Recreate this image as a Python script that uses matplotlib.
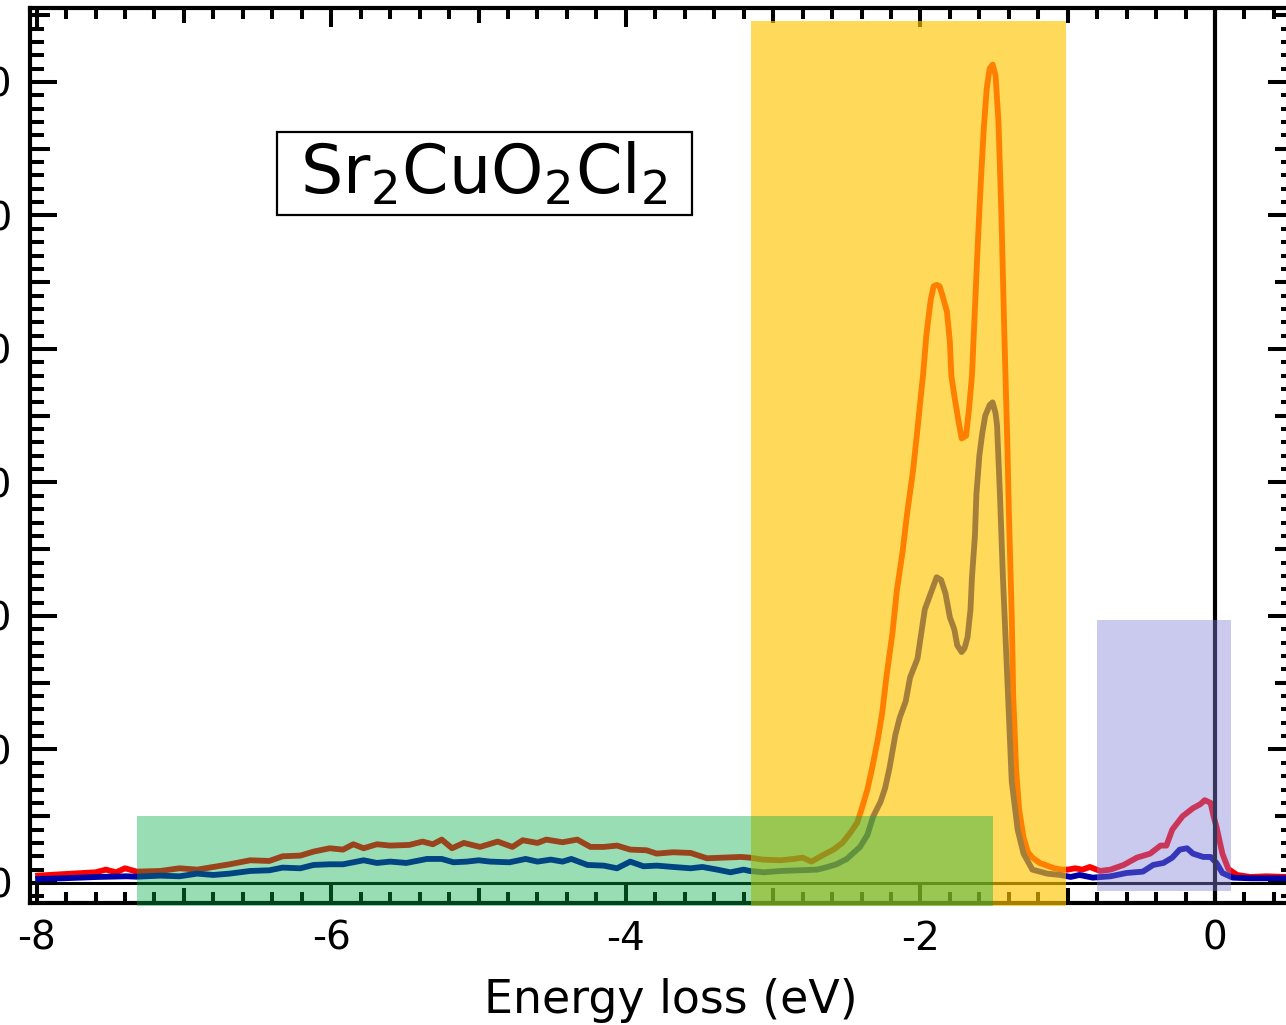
import matplotlib
matplotlib.use('Agg')
import matplotlib.pyplot as plt
from matplotlib.ticker import MultipleLocator, NullFormatter
from matplotlib.patches import Rectangle

plt.rcParams['font.family'] = ['DejaVu Sans']
plt.rcParams['axes.unicode_minus'] = False
plt.rcParams['mathtext.fontset'] = 'dejavusans'

# ---------------- data ----------------
red_x = [-7.99, -7.84, -7.60, -7.53, -7.46, -7.40, -7.32, -7.16, -7.03, -6.91, -6.80, -6.69,
         -6.55, -6.42, -6.33, -6.21, -6.12, -6.01, -5.92, -5.85, -5.78, -5.69, -5.60, -5.47,
         -5.38, -5.31, -5.25, -5.18, -5.10, -4.99, -4.87, -4.77, -4.70, -4.60, -4.54, -4.43,
         -4.33, -4.24, -4.15, -4.06, -3.97, -3.86, -3.79, -3.68, -3.56, -3.45, -3.34, -3.22,
         -3.16, -3.07, -2.95, -2.86, -2.80, -2.74, -2.66, -2.59, -2.53, -2.48, -2.43, -2.40,
         -2.36, -2.33, -2.29, -2.26, -2.23, -2.19, -2.16, -2.12, -2.09, -2.05, -2.02, -1.98,
         -1.96, -1.93, -1.91, -1.89, -1.87, -1.85, -1.82, -1.80, -1.79, -1.77, -1.74, -1.72,
         -1.69, -1.67, -1.65, -1.63, -1.61, -1.59, -1.57, -1.55, -1.53, -1.51, -1.49, -1.47,
         -1.45, -1.43, -1.41, -1.40, -1.38, -1.37, -1.35, -1.33, -1.30, -1.27, -1.24, -1.19,
         -1.14, -1.09, -1.04, -1.00, -0.95, -0.90, -0.85, -0.78, -0.71, -0.62, -0.53, -0.44,
         -0.37, -0.33, -0.29, -0.22, -0.15, -0.10, -0.07, -0.03, -0.01, 0.01, 0.05, 0.09,
         0.15, 0.24, 0.35, 0.48, 0.55]
red_y = [0.055, 0.065, 0.08, 0.10, 0.08, 0.11, 0.085, 0.09, 0.11, 0.10, 0.12, 0.14,
         0.17, 0.165, 0.20, 0.205, 0.235, 0.26, 0.25, 0.29, 0.26, 0.29, 0.28, 0.285,
         0.31, 0.29, 0.325, 0.26, 0.30, 0.27, 0.31, 0.27, 0.32, 0.30, 0.325, 0.305,
         0.325, 0.27, 0.27, 0.28, 0.25, 0.245, 0.22, 0.23, 0.225, 0.185, 0.19, 0.195,
         0.19, 0.175, 0.17, 0.18, 0.19, 0.16, 0.21, 0.25, 0.30, 0.37, 0.45, 0.55,
         0.70, 0.85, 1.07, 1.27, 1.55, 1.87, 2.19, 2.49, 2.77, 3.09, 3.40, 3.83,
         4.10, 4.37, 4.47, 4.48, 4.47, 4.40, 4.28, 4.05, 3.80, 3.65, 3.45, 3.33,
         3.35, 3.55, 3.80, 4.30, 4.80, 5.25, 5.65, 5.95, 6.10, 6.13, 6.05, 5.70,
         5.00, 4.10, 3.30, 2.80, 2.00, 1.40, 0.85, 0.55, 0.34, 0.23, 0.19, 0.15,
         0.13, 0.11, 0.10, 0.10, 0.11, 0.10, 0.12, 0.09, 0.10, 0.135, 0.19, 0.22,
         0.28, 0.28, 0.40, 0.50, 0.56, 0.59, 0.62, 0.60, 0.50, 0.42, 0.22, 0.105,
         0.06, 0.045, 0.05, 0.045, 0.045]

blue_x = [-7.99, -7.82, -7.59, -7.39, -7.32, -7.16, -7.03, -6.91, -6.80, -6.69, -6.55, -6.42,
          -6.33, -6.21, -6.12, -6.01, -5.92, -5.78, -5.69, -5.60, -5.49, -5.35, -5.25, -5.17,
          -5.08, -5.00, -4.92, -4.79, -4.68, -4.60, -4.51, -4.43, -4.37, -4.26, -4.15, -4.06,
          -3.97, -3.88, -3.79, -3.68, -3.56, -3.48, -3.38, -3.29, -3.20, -3.16, -3.06, -2.95,
          -2.82, -2.70, -2.63, -2.57, -2.50, -2.46, -2.41, -2.36, -2.32, -2.27, -2.24, -2.21,
          -2.17, -2.14, -2.10, -2.07, -2.02, -1.97, -1.92, -1.89, -1.86, -1.83, -1.80, -1.77,
          -1.75, -1.72, -1.70, -1.68, -1.66, -1.65, -1.63, -1.62, -1.60, -1.58, -1.56, -1.53,
          -1.51, -1.49, -1.48, -1.46, -1.44, -1.41, -1.38, -1.34, -1.30, -1.24, -1.14, -1.05,
          -0.98, -0.92, -0.83, -0.71, -0.60, -0.49, -0.42, -0.35, -0.29, -0.24, -0.19, -0.15,
          -0.08, -0.03, 0.01, 0.05, 0.12, 0.24, 0.48, 0.55]
blue_y = [0.03, 0.035, 0.045, 0.05, 0.047, 0.055, 0.05, 0.07, 0.06, 0.07, 0.09, 0.095,
          0.115, 0.11, 0.135, 0.14, 0.14, 0.17, 0.15, 0.16, 0.15, 0.18, 0.18, 0.155,
          0.16, 0.17, 0.16, 0.155, 0.18, 0.16, 0.175, 0.16, 0.18, 0.135, 0.13, 0.11,
          0.16, 0.125, 0.13, 0.12, 0.11, 0.12, 0.10, 0.08, 0.10, 0.09, 0.08, 0.09,
          0.095, 0.10, 0.12, 0.14, 0.18, 0.22, 0.27, 0.36, 0.50, 0.61, 0.71, 0.86,
          1.11, 1.24, 1.36, 1.54, 1.68, 2.05, 2.20, 2.29, 2.27, 2.17, 1.99, 1.90,
          1.78, 1.73, 1.76, 1.84, 2.05, 2.29, 2.60, 2.91, 3.20, 3.37, 3.50, 3.58,
          3.60, 3.52, 3.43, 2.91, 2.29, 1.53, 0.76, 0.40, 0.22, 0.10, 0.07, 0.06,
          0.045, 0.06, 0.04, 0.05, 0.075, 0.085, 0.135, 0.15, 0.19, 0.25, 0.26, 0.22,
          0.195, 0.195, 0.15, 0.075, 0.04, 0.035, 0.035, 0.035]

# shaded regions: green (multi-magnon), yellow (dd), lavender (magnon)
band_names = ['green', 'yellow', 'lavender']
band_x0 = [-7.32, -3.15, -0.80]
band_x1 = [-1.51, -1.01, 0.11]
band_y0 = [-0.17, -0.17, -0.06]
band_y1 = [0.50, 6.46, 1.97]

x_major_ticks = [-8, -6, -4, -2, 0]
x_tick_labels = ['-8', '-6', '-4', '-2', '0']
x_mid_ticks = [-7, -5, -3, -1]
y_major_ticks = [0, 1, 2, 3, 4, 5, 6]
y_tick_labels = ['0', '10', '20', '30', '40', '50', '60']
y_mid_ticks = [0.5, 1.5, 2.5, 3.5, 4.5, 5.5, 6.5]

compound = r'Sr$_2$CuO$_2$Cl$_2$'
x_title = 'Energy loss (eV)'

# ---------------- figure ----------------
W, H = 1286, 1025
fig = plt.figure(figsize=(W / 100, H / 100), dpi=100)
ax = fig.add_axes([30 / W, 122 / H, 1265 / W, 895 / H])

ax.plot(red_x, red_y, color='#FF0000', lw=4.2, zorder=2, solid_joinstyle='round')
ax.plot(blue_x, blue_y, color='#0000A8', lw=4.2, zorder=2.1, solid_joinstyle='round')
ax.axhline(0, color='black', lw=2.2, zorder=1.5)
ax.axvline(0, color='black', lw=3.0, zorder=2.5)

band_style = {
    'green': dict(fc='#00AC48', alpha=0.40, z=3.2),
    'yellow': dict(fc='#FFC500', alpha=0.65, z=3.0),
    'lavender': dict(fc='#8282D7', alpha=0.42, z=3.1),
}
for name, x0, x1, y0, y1 in zip(band_names, band_x0, band_x1, band_y0, band_y1):
    st = band_style[name]
    ax.add_patch(Rectangle((x0, y0), x1 - x0, y1 - y0, facecolor=st['fc'],
                           alpha=st['alpha'], lw=0, zorder=st['z'], clip_on=False))

ax.set_xlim(-8.045, 0.543)
ax.set_ylim(-0.15, 6.554)

ax.set_axisbelow(True)
for s in ax.spines.values():
    s.set_linewidth(3.0)
    s.set_zorder(0.5)

ax.set_xticks(x_major_ticks, x_tick_labels)
ax.xaxis.set_minor_locator(MultipleLocator(0.2))
ax.set_yticks(y_major_ticks, y_tick_labels)
ax.yaxis.set_minor_locator(MultipleLocator(0.1))

ax.tick_params(axis='x', which='major', direction='in', length=13.7, width=2.9,
               top=True, bottom=True, labelsize=28, pad=12)
ax.tick_params(axis='x', which='minor', direction='in', length=7.9, width=2.9,
               top=True, bottom=True)
ax.tick_params(axis='y', which='major', direction='in', length=19.4, width=2.9,
               left=True, right=True, labelsize=28, pad=13)
ax.tick_params(axis='y', which='minor', direction='in', length=10.0, width=2.9,
               left=True, right=True)

# medium-length ticks
for loc in ('bottom', 'top'):
    sec = ax.secondary_xaxis(loc)
    sec.set_xticks(x_mid_ticks)
    sec.xaxis.set_major_formatter(NullFormatter())
    sec.tick_params(direction='in', length=10.8, width=2.9)
    for s in sec.spines.values():
        s.set_visible(False)
for loc in ('left', 'right'):
    sec = ax.secondary_yaxis(loc)
    sec.set_yticks(y_mid_ticks)
    sec.yaxis.set_major_formatter(NullFormatter())
    sec.tick_params(direction='in', length=14.4, width=2.9)
    for s in sec.spines.values():
        s.set_visible(False)

ax.set_xlabel(x_title, fontsize=33)
ax.xaxis.set_label_coords((671 - 30) / 1265, -0.084)

# compound label with frame
ax.add_patch(Rectangle((0.1953, 0.7687), 0.328, 0.0927, transform=ax.transAxes,
                       fill=False, lw=1.6, ec='black', zorder=4, clip_on=False))
ax.text(0.359, 0.792, compound, transform=ax.transAxes, fontsize=48,
        ha='center', va='baseline', zorder=4)

fig.savefig('out.png', dpi=100)
